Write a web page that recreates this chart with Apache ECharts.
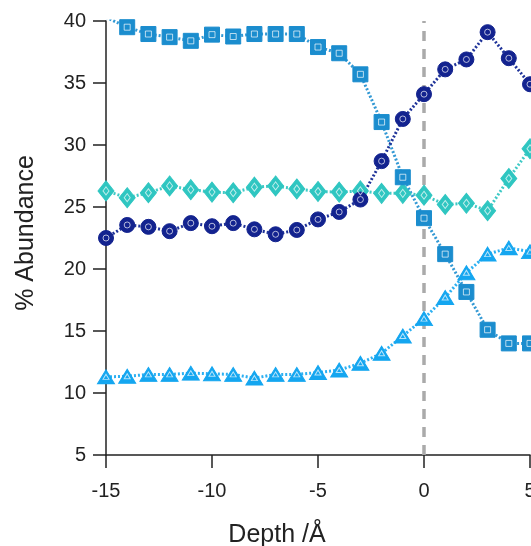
<!DOCTYPE html>
<html>
<head>
<meta charset="utf-8">
<title>% Abundance vs Depth</title>
<script src="https://cdn.jsdelivr.net/npm/echarts@6/dist/echarts.min.js"></script>
<style>
  html, body { margin: 0; padding: 0; background: #ffffff; }
  #chart { width: 531px; height: 546px; }
</style>
</head>
<body>
<div id="chart"></div>
<script>
// Depth positions (Å) and abundance profiles (%)
const depth = [-15, -14, -13, -12, -11, -10, -9, -8, -7, -6, -5, -4, -3, -2, -1, 0, 1, 2, 3, 4, 5];
const squareSeries = [40.3, 39.5, 38.95, 38.7, 38.4, 38.9, 38.75, 38.95, 38.95, 38.95, 37.9, 37.4, 35.7, 31.85, 27.4, 24.1, 21.2, 18.15, 15.1, 14.0, 14.0];
const circleSeries = [22.5, 23.55, 23.4, 23.05, 23.7, 23.45, 23.7, 23.2, 22.8, 23.15, 24.0, 24.6, 25.6, 28.7, 32.1, 34.1, 36.1, 36.9, 39.1, 37.0, 34.9];
const diamondSeries = [26.3, 25.75, 26.15, 26.7, 26.4, 26.2, 26.15, 26.6, 26.7, 26.45, 26.25, 26.2, 26.3, 26.1, 26.1, 25.95, 25.2, 25.3, 24.7, 27.3, 29.7];
const triangleSeries = [11.3, 11.35, 11.5, 11.5, 11.6, 11.55, 11.5, 11.2, 11.5, 11.5, 11.65, 11.85, 12.4, 13.2, 14.6, 16.0, 17.7, 19.7, 21.2, 21.7, 21.4];

const xTicks = { min: -15, max: 5, interval: 5 };
const yTicks = { min: 5, max: 40, interval: 5 };

const FONT = '"Liberation Sans", Arial, sans-serif';
const INK = '#222222';

function pairs(values) {
  return depth.map((d, i) => [d, values[i]]);
}

function profile(name, values, color, lineColor, symbol, size, innerSize) {
  return [
    {
      name: name,
      type: 'line',
      data: pairs(values),
      symbol: symbol,
      symbolSize: size,
      showAllSymbol: true,
      clip: true,
      itemStyle: { color: color, borderColor: color, borderWidth: 1 },
      lineStyle: { color: lineColor, width: 3, type: [2, 2] },
      emphasis: { disabled: true },
      z: 3
    },
    {
      name: name + ' centre',
      type: 'scatter',
      data: pairs(values).filter(p => p[1] <= yTicks.max),
      symbol: symbol,
      symbolSize: innerSize,
      itemStyle: { color: 'rgba(0,0,0,0)', borderColor: 'rgba(255,255,255,0.85)', borderWidth: 1 },
      emphasis: { disabled: true },
      silent: true,
      z: 4
    }
  ];
}

const chart = echarts.init(document.getElementById('chart'), null, { renderer: 'canvas' });

const series = [].concat(
  profile('diamond', diamondSeries, '#2fc6c1', '#3fcac6', 'diamond', [16, 20], [6, 8]),
  profile('triangle', triangleSeries, '#14a6f0', '#2cb0f2', 'triangle', [17, 14], [6, 5]),
  profile('square', squareSeries, '#1b8dce', '#3399d4', 'rect', 15, 6),
  profile('circle', circleSeries, '#13238f', '#1f3399', 'circle', 15, 6)
);

// vertical reference at depth 0
series[0].markLine = {
  silent: true,
  symbol: 'none',
  label: { show: false },
  lineStyle: { color: '#aaaaaa', width: 3.5, type: [10, 8] },
  data: [{ xAxis: 0 }],
  z: 1
};

chart.setOption({
  animation: false,
  backgroundColor: '#ffffff',
  grid: { left: 106, right: 1, top: 21, bottom: 91, containLabel: false, outerBoundsMode: 'none' },
  xAxis: {
    type: 'value',
    min: xTicks.min, max: xTicks.max, interval: xTicks.interval,
    axisLine: { show: true, onZero: false, lineStyle: { color: INK, width: 1.5 } },
    axisTick: { show: true, inside: false, length: 13, lineStyle: { color: INK, width: 1.5 } },
    axisLabel: { color: INK, fontFamily: FONT, fontSize: 20, margin: 26 },
    splitLine: { show: false }
  },
  yAxis: {
    type: 'value',
    min: yTicks.min, max: yTicks.max, interval: yTicks.interval,
    axisLine: { show: true, onZero: false, lineStyle: { color: INK, width: 1.5 } },
    axisTick: { show: true, inside: false, length: 13, lineStyle: { color: INK, width: 1.5 } },
    axisLabel: { color: INK, fontFamily: FONT, fontSize: 20, margin: 20 },
    splitLine: { show: false }
  },
  graphic: [
    {
      type: 'text',
      x: 277, y: 535,
      style: { text: 'Depth /Å', fill: INK, font: '25px ' + FONT, textAlign: 'center', textVerticalAlign: 'middle' }
    },
    {
      type: 'text',
      x: 26, y: 233,
      rotation: Math.PI / 2,
      style: { text: '% Abundance', fill: INK, font: '25px ' + FONT, textAlign: 'center', textVerticalAlign: 'middle' }
    }
  ],
  series: series
});
</script>
</body>
</html>
